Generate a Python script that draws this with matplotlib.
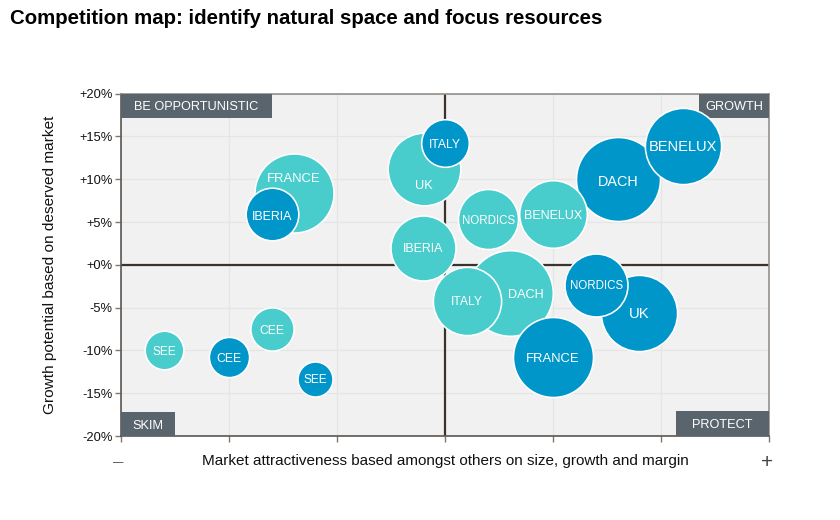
import numpy as np
import matplotlib
matplotlib.use("Agg")
import matplotlib.pyplot as plt
from matplotlib.patches import Rectangle

plt.rcParams['font.family'] = ['Liberation Sans', 'DejaVu Sans']

# Data ---------------------------------------------------------------
teal_names = ["FRANCE", "UK", "IBERIA", "NORDICS", "BENELUX", "DACH", "ITALY", "CEE", "SEE"]
teal_x = [-7.0, -0.97, -1.0, 2.0, 5.0, 3.0, 1.0, -8.0, -13.0]
teal_y = [8.4, 11.2, 2.0, 5.4, 5.9, -3.3, -4.2, -7.5, -10.0]
teal_size = [1498, 1260, 1005, 853, 1089, 1764, 1109, 433, 342]
teal_label_x = [-7.0, -1.0, -1.0, 2.0, 5.0, 3.76, 1.0, -8.0, -13.0]
teal_label_y = [10.25, 9.43, 2.0, 5.35, 5.85, -3.3, -4.2, -7.5, -10.0]
teal_font = [9.4, 9.2, 8.9, 8.3, 9.0, 9.1, 8.7, 8.7, 8.6]

blue_names = ["IBERIA", "ITALY", "DACH", "BENELUX", "NORDICS", "UK", "FRANCE", "CEE", "SEE"]
blue_x = [-8.0, 0.0, 8.0, 11.0, 7.0, 9.0, 5.0, -10.0, -6.0]
blue_y = [5.9, 14.2, 10.0, 13.9, -2.3, -5.6, -10.8, -10.8, -13.3]
blue_size = [650, 529, 1697, 1391, 942, 1391, 1537, 372, 279]
blue_label_x = blue_x
blue_label_y = [5.8, 14.2, 9.9, 13.9, -2.3, -5.6, -10.8, -10.8, -13.3]
blue_font = [8.9, 8.7, 10.4, 10.5, 8.3, 10.7, 9.4, 8.8, 8.6]

x_ticks = [-15, -10, -5, 0, 5, 10, 15]
y_ticks = [-20, -15, -10, -5, 0, 5, 10, 15, 20]
y_tick_labels = ["-20%", "-15%", "-10%", "-5%", "+0%", "+5%", "+10%", "+15%", "+20%"]

TEAL = "#49cccc"
BLUE = "#0096c9"

W, H = 840, 520
fig = plt.figure(figsize=(W / 100, H / 100), dpi=100)
ax = fig.add_axes([121 / W, 1 - 436 / H, 648 / W, 342.3 / H])
ax.set_facecolor("#f1f1f1")
ax.set_xlim(-15, 15)
ax.set_ylim(-20, 20)
ax.set_xticks(x_ticks)
ax.set_xticklabels([])
ax.set_yticks(y_ticks)
ax.set_yticklabels(y_tick_labels, fontsize=9.3, color="#111111")
ax.tick_params(axis="both", length=4, width=1, color="#7d7872", pad=2)
ax.grid(True, color="#e5e5e5", lw=0.9)
ax.set_axisbelow(True)
for side in ("top", "right"):
    ax.spines[side].set_color("#958f89")
    ax.spines[side].set_linewidth(1.2)
for side in ("left", "bottom"):
    ax.spines[side].set_color("#5c5650")
    ax.spines[side].set_linewidth(1.2)

ax.axhline(0, color="#3a332c", lw=1.6, zorder=2)
ax.axvline(0, color="#3a332c", lw=1.6, zorder=2)

# Quadrant tags
tags = [("BE OPPORTUNISTIC", -15, 17.2, 7.0, 2.8),
        ("GROWTH", 11.75, 17.15, 3.25, 2.85),
        ("SKIM", -15, -20, 2.5, 2.8),
        ("PROTECT", 10.7, -20, 4.3, 2.9)]
for txt, x0, y0, w, h in tags:
    ax.add_patch(Rectangle((x0, y0), w, h, fc="#5a646c", ec="none", zorder=3))
    ax.text(x0 + w / 2, y0 + h / 2, txt, color="white", fontsize=9.2,
            ha="center", va="center_baseline", zorder=4)

# Bubbles, largest first
names = teal_names + blue_names
xs = teal_x + blue_x
ys = teal_y + blue_y
sizes = teal_size + blue_size
lxs = teal_label_x + blue_label_x
lys = teal_label_y + blue_label_y
fonts = teal_font + blue_font
colors = [TEAL] * len(teal_names) + [BLUE] * len(blue_names)

order = np.argsort(sizes)[::-1]
for rank, i in enumerate(order):
    z = 5 + rank * 0.01
    r_pt = (np.sqrt(sizes[i]) + 0.8) * 0.72
    ax.scatter([xs[i]], [ys[i]], s=(2 * r_pt) ** 2, color=colors[i],
               edgecolors="white", linewidths=1.15, zorder=z, clip_on=False)
    ax.text(lxs[i], lys[i], names[i], color="white", fontsize=fonts[i],
            ha="center", va="center_baseline", zorder=z + 0.001)

# Outer text
fig.text(10 / W, 1 - 18.5 / H, "Competition map: identify natural space and focus resources",
         fontsize=14.7, fontweight="bold", color="black", ha="left", va="center")
fig.text(445 / W, 1 - 461 / H, "Market attractiveness based amongst others on size, growth and margin",
         fontsize=11.0, color="#111111", ha="center", va="center")
fig.text(50 / W, 1 - 265 / H, "Growth potential based on deserved market", rotation=90,
         fontsize=11.1, color="#111111", ha="center", va="center")
fig.text(118 / W, 1 - 462 / H, "\u2014", fontsize=7.5, color="#333333", ha="center", va="center")
fig.text(767 / W, 1 - 462 / H, "+", fontsize=15, color="#444444", ha="center", va="center")

fig.savefig("out.png", dpi=100)
